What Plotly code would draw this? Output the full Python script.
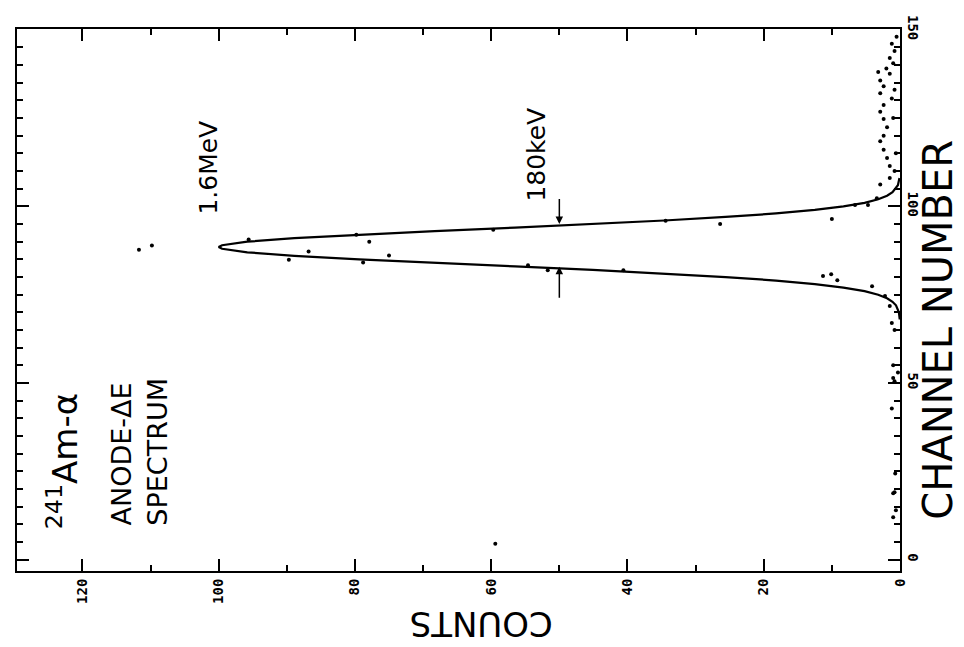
import plotly.graph_objects as go

# Fitted curve (channel -> counts)
curve_channel = [68, 70, 72, 73, 74, 75, 76, 77, 78, 79, 80, 81, 82, 83, 84, 85, 86, 87, 88, 88.5,
                 89, 90, 91, 92, 93, 94, 95, 96, 97, 98, 99, 100, 101, 102, 103, 104, 106, 108]
curve_counts = [0.04, 0.16, 0.59, 1.1, 1.9, 3.2, 5.2, 8.3, 12.5, 18.2, 25.6, 34.6, 45.1, 56.5, 68.3, 79.4, 88.9, 95.8, 99.5, 100,
                99.5, 95.8, 88.9, 79.4, 68.3, 56.5, 45.1, 34.6, 25.6, 18.2, 12.5, 8.3, 5.2, 3.2, 1.9, 1.1, 0.31, 0.08]

# Measured data points (channel, counts)
data_channel = [87.7, 88.9, 90.6, 87.2, 84.9, 92.0, 90.0, 86.1, 84.1, 93.4, 95.9, 83.3, 81.9, 81.9,
                95.0, 96.4, 100.4, 100.4, 102.3, 80.3, 80.8, 79.1, 77.4, 74.6, 71.8, 67.0, 51.4, 42.8,
                24.4, 19.1, 14.0, 65.0, 55.0, 53.0, 50.5, 18.8, 12.0, 4.5,
                106.2, 108.0, 111.4, 113.7, 116.0, 118.4, 120.0, 122.4, 124.7, 126.8, 128.7, 130.5, 132.0,
                134.0, 135.6, 137.5, 139.0, 140.5, 142.0, 144.0, 146.0, 148.0, 110.0, 115.0, 125.0, 133.0, 138.0]
data_counts = [111.7, 109.8, 95.6, 86.8, 89.7, 79.8, 77.9, 75.0, 78.8, 59.7, 34.4, 54.6, 51.7, 40.6,
               26.4, 10.0, 6.6, 4.7, 3.4, 11.3, 10.1, 9.2, 4.1, 2.2, 1.5, 1.2, 1.0, 1.2,
               0.7, 0.8, 0.6, 0.8, 1.0, 0.3, 0.8, 1.0, 1.0, 59.4,
               2.9, 1.5, 1.5, 1.9, 2.4, 2.9, 2.4, 1.9, 2.4, 2.9, 2.4, 1.2, 2.9,
               2.4, 2.9, 1.5, 2.0, 1.0, 1.5, 0.8, 1.2, 0.5, 0.8, 0.6, 1.0, 0.8, 3.2]

count_ticks = [0, 20, 40, 60, 80, 100, 120]
channel_ticks = [0, 50, 100, 150]

fig = go.Figure()
fig.add_trace(go.Scatter(x=curve_counts, y=curve_channel, mode="lines",
                         line=dict(color="black", width=2.2), showlegend=False))
fig.add_trace(go.Scatter(x=data_counts, y=data_channel, mode="markers",
                         marker=dict(color="black", size=4), showlegend=False))

tickfont = dict(family="DejaVu Sans Mono", size=14, color="black", weight="bold")

fig.update_layout(
    width=956, height=639,
    margin=dict(l=7, r=64, t=18, b=76),
    paper_bgcolor="white", plot_bgcolor="white",
    xaxis=dict(range=[129.6, 0], tickvals=count_ticks, ticktext=[str(v) for v in count_ticks],
               ticks="inside", ticklen=12, tickwidth=1.5, tickcolor="black",
               showline=True, linecolor="black", linewidth=2, mirror="ticks",
               showgrid=False, zeroline=False, tickangle=-90, tickfont=tickfont,
               minor=dict(dtick=10, tick0=0, ticks="inside", ticklen=6, tickcolor="black", tickwidth=1.5)),
    yaxis=dict(range=[-3.2, 150.2], side="right", tickvals=channel_ticks,
               ticktext=[str(v) for v in channel_ticks],
               ticks="inside", ticklen=12, tickwidth=1.5, tickcolor="black",
               showline=True, linecolor="black", linewidth=2, mirror="ticks",
               showgrid=False, zeroline=False, tickangle=90, tickfont=tickfont,
               minor=dict(dtick=5, tick0=0, ticks="inside", ticklen=6, tickcolor="black", tickwidth=1.5)),
)

big = "DejaVu Sans"
anns = [
    dict(text="CHANNEL NUMBER", x=1.0435, y=0.446, xref="paper", yref="paper", textangle=-90,
         font=dict(family=big, size=40, color="black"), showarrow=False, xanchor="center", yanchor="middle"),
    dict(text="COUNTS", x=0.5254, y=-0.099, xref="paper", yref="paper", textangle=180,
         font=dict(family=big, size=34, color="black"), showarrow=False, xanchor="center", yanchor="middle"),
    dict(text="<sup>241</sup>Am-α", x=0.052, y=0.073, xref="paper", yref="paper", textangle=-90,
         font=dict(family=big, size=34, color="black"), showarrow=False, xanchor="center", yanchor="bottom"),
    dict(text="ANODE-ΔE", x=0.1186, y=0.0807, xref="paper", yref="paper", textangle=-90,
         font=dict(family=big, size=27, color="black"), showarrow=False, xanchor="center", yanchor="bottom"),
    dict(text="SPECTRUM", x=0.159, y=0.0807, xref="paper", yref="paper", textangle=-90,
         font=dict(family=big, size=27, color="black"), showarrow=False, xanchor="center", yanchor="bottom"),
    dict(text="1.6MeV", x=101.5, y=111.1, xref="x", yref="y", textangle=-90,
         font=dict(family=big, size=25, color="black"), showarrow=False, xanchor="center", yanchor="middle"),
    dict(text="180keV", x=53.4, y=114.7, xref="x", yref="y", textangle=-90,
         font=dict(family=big, size=25, color="black"), showarrow=False, xanchor="center", yanchor="middle"),
    dict(text=" ", x=50, y=95.0, xref="x", yref="y", ax=0, ay=-29, showarrow=True,
         arrowhead=2, arrowsize=1, arrowwidth=1.5, arrowcolor="black", font=dict(size=4)),
    dict(text=" ", x=50, y=82.9, xref="x", yref="y", ax=0, ay=35, showarrow=True,
         arrowhead=2, arrowsize=1, arrowwidth=1.5, arrowcolor="black", font=dict(size=4)),
]
fig.update_layout(annotations=anns)

fig.write_html("out.html")
